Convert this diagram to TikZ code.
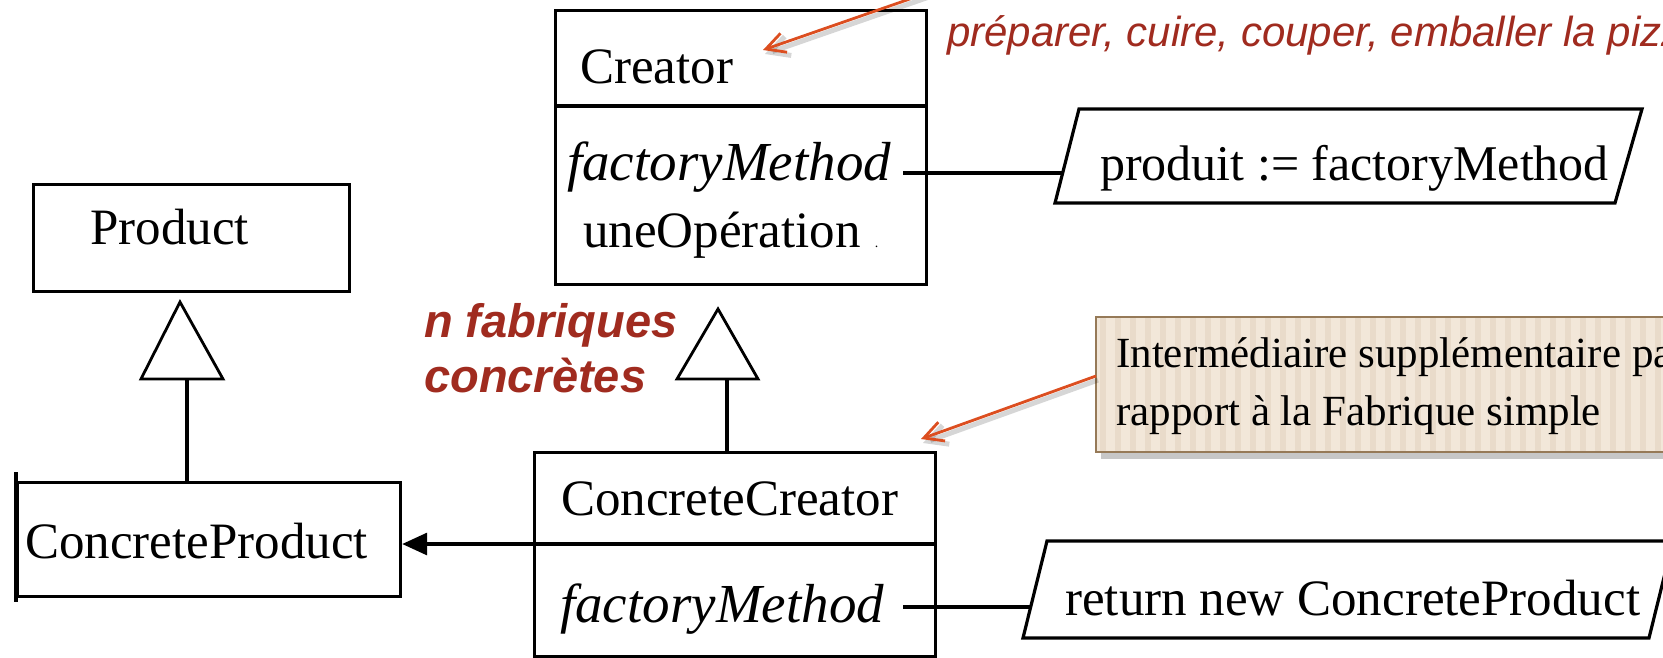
\documentclass[tikz,border=0pt]{standalone}
\usepackage{fontspec}
\setmainfont{Liberation Serif}
\newfontfamily\arialfont{Liberation Sans}
\usetikzlibrary{arrows.meta}
\definecolor{txtred}{RGB}{160,43,31}
\definecolor{arrred}{RGB}{220,78,32}
\definecolor{notefill}{RGB}{242,231,217}
\definecolor{notestripe}{RGB}{233,219,202}
\definecolor{noteborder}{RGB}{150,122,88}
\begin{document}
\begin{tikzpicture}[x=1pt,y=-1pt,
  umlbox/.style={draw=black, line width=3.2pt, inner sep=0pt, anchor=north west},
  umltxt/.style={inner sep=0pt, anchor=base west, font=\fontsize{51}{51}\selectfont},
  umlital/.style={inner sep=0pt, anchor=base west, font=\fontsize{55}{55}\selectfont\itshape},
  umlline/.style={draw=black, line width=3.2pt},
  trianglestyle/.style={draw=black, line width=2.8pt, line join=miter},
  callout/.style={draw=arrred, line width=2.8pt, -{Straight Barb[length=19pt,width=20pt]}},
  calloutshadow/.style={draw=black, draw opacity=0.16, line width=5pt, -{Straight Barb[length=19pt,width=20pt]}},
  redtxt/.style={inner sep=0pt, anchor=base west, text=txtred, font=\arialfont\itshape\fontsize{42}{42}\selectfont},
  redbold/.style={inner sep=0pt, anchor=base west, text=txtred, font=\arialfont\bfseries\itshape\fontsize{47}{47}\selectfont},
  notetxt/.style={inner sep=0pt, anchor=base west, font=\fontsize{43}{43}\selectfont}
]
\useasboundingbox (0,0) rectangle (1663,657);
\clip (0,0) rectangle (1663,657);
\fill[white] (0,0) rectangle (1663,657);

% ---------- Creator ----------
\node[umlbox, minimum width=371pt, minimum height=274pt] (creator) at (554,9) {};
\coordinate (crdivL) at (554,106);
\coordinate (crdivR) at (925,106);
\draw[umlline] (crdivL) -- (crdivR);
\node[umltxt] (crname) at (580,83) {Creator};
\node[umlital] (crfm) at (567,180) {factoryMethod};
\node[umltxt] (crop) at (583,247) {uneOpération\hspace{14pt}{\fontsize{14}{14}\selectfont .}};

% ---------- Product ----------
\node[umlbox, minimum width=316pt, minimum height=107pt] (product) at (32,183) {};
\node[umltxt] (prname) at (90,244) {Product};

% ---------- ConcreteProduct ----------
\node[umlbox, minimum width=383pt, minimum height=114pt] (cprod) at (16,481) {};
\coordinate (cptickA) at (16,472);
\coordinate (cptickB) at (16,602);
\draw[umlline] (cptickA) -- (cptickB);
\node[umltxt] (cpname) at (25,558) {ConcreteProduct};

% ---------- ConcreteCreator ----------
\node[umlbox, minimum width=401pt, minimum height=204pt] (ccreator) at (533,451) {};
\coordinate (ccdivL) at (533,544);
\coordinate (ccdivR) at (934,544);
\draw[umlline] (ccdivL) -- (ccdivR);
\node[umltxt] (ccname) at (561,515) {ConcreteCreator};
\node[umlital] (ccfm) at (560,622) {factoryMethod};

% ---------- generalisation Product ----------
\draw[trianglestyle] (141,379) -- (180,302) -- (223,379) -- cycle;
\coordinate (pbase) at (187,379);
\draw[umlline] (pbase) -- (pbase |- cprod.north);

% ---------- generalisation Creator ----------
\draw[trianglestyle] (677,379) -- (718,309) -- (758,379) -- cycle;
\coordinate (cbase) at (727,379);
\draw[umlline] (cbase) -- (cbase |- ccreator.north);

% ---------- association ----------
\draw[umlline, -{Triangle[length=25pt,width=22pt]}] (ccdivL) -- (ccdivL -| cprod.east);

% ---------- note 1 (parallelogram) ----------
\draw[umlline, line join=miter] (1079,109) -- (1642,109) -- (1615,203) -- (1055,203) -- cycle;
\node[umltxt, font=\fontsize{50}{50}\selectfont] (code1) at (1100,180) {produit := factoryMethod};
\coordinate (fm1out) at (903,173);
\coordinate (code1in) at (1063,173);
\draw[umlline] (fm1out) -- (code1in);

% ---------- note 2 (parallelogram) ----------
\draw[umlline, line join=miter] (1047,541) -- (1673,541) -- (1649,638) -- (1023,638) -- cycle;
\node[umltxt] (code2) at (1065,615) {return new ConcreteProduct};
\coordinate (fm2out) at (903,607);
\coordinate (code2in) at (1030,607);
\draw[umlline] (fm2out) -- (code2in);

% ---------- tan callout ----------
\fill[black, opacity=0.22] (1101,324) rectangle (1710,459);
\fill[notefill] (1096,317) rectangle (1710,452);
\foreach \i in {0,...,40} {
  \fill[notestripe] (1100+\i*15,317) rectangle ++(6,135);
}
\draw[noteborder, line width=2pt] (1096,317) rectangle (1710,452);
\node[notetxt] (notel1) at (1116,367) {Intermédiaire supplémentaire par};
\node[notetxt] (notel2) at (1116,425) {rapport à la Fabrique simple};
\coordinate (noteout) at (1096,376);
\coordinate (cctip) at (921,439);
\draw[calloutshadow] ([shift={(2,4)}]noteout) -- ([shift={(2,4)}]cctip);
\draw[callout] (noteout) -- (cctip);

% ---------- top callout ----------
\coordinate (topout) at (950,-15);
\coordinate (crtip) at (763,50);
\draw[calloutshadow] ([shift={(2,4)}]topout) -- ([shift={(2,4)}]crtip);
\draw[callout] (topout) -- (crtip);
\node[redtxt] (steps) at (947,46) {préparer, cuire, couper, emballer la pizza};

% ---------- red label ----------
\node[redbold] (nfab1) at (424,337) {n fabriques};
\node[redbold] (nfab2) at (424,392) {concrètes};
\end{tikzpicture}
\end{document}
